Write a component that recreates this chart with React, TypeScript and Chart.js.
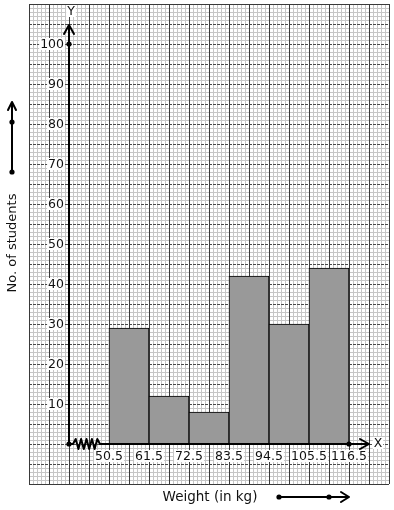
import React, { useEffect, useRef } from 'react';
import { Chart, registerables } from 'chart.js';

Chart.register(...registerables);

const classBoundaries = [50.5, 61.5, 72.5, 83.5, 94.5, 105.5, 116.5];
const frequencies = [29, 12, 8, 42, 30, 44];
const xTickLabels = ['50.5', '61.5', '72.5', '83.5', '94.5', '105.5', '116.5'];
const yTickValues = [10, 20, 30, 40, 50, 60, 70, 80, 90, 100];
const xTitle = 'Weight (in kg)';
const yTitle = 'No. of students';

// axis ranges of the graph paper (x: kg, y: students)
const xMin = 28.5;
const xMax = 127.5;
const yMin = -10;
const yMax = 110;
const xOrigin = 39.5; // value where the (broken) x axis meets the y axis
const xMinorStep = 1.1;
const yMinorStep = 1;

const FONT = "'DejaVu Sans', sans-serif";

const barData = frequencies.map((f, i) => ({
  x: (classBoundaries[i] + classBoundaries[i + 1]) / 2,
  y: f,
}));

const graphPaper = {
  id: 'graphPaper',
  beforeDatasetsDraw(chart: any) {
    const { ctx, chartArea: a, scales } = chart;
    const xs = scales.x;
    const ys = scales.y;
    ctx.save();
    ctx.fillStyle = '#ffffff';
    ctx.fillRect(a.left, a.top, a.right - a.left, a.bottom - a.top);
    ctx.lineWidth = 1;
    const nx = Math.round((xMax - xMin) / xMinorStep);
    const ny = Math.round((yMax - yMin) / yMinorStep);
    const px = (i: number) => Math.round(xs.getPixelForValue(xMin + i * xMinorStep)) + 0.5;
    const py = (i: number) => Math.round(ys.getPixelForValue(yMin + i * yMinorStep)) + 0.5;
    // minor lines
    ctx.strokeStyle = '#c6c6c6';
    ctx.beginPath();
    for (let i = 0; i <= nx; i++) {
      if (i % 5 === 0) continue;
      ctx.moveTo(px(i), a.top);
      ctx.lineTo(px(i), a.bottom);
    }
    for (let i = 0; i <= ny; i++) {
      if (i % 5 === 0) continue;
      ctx.moveTo(a.left, py(i));
      ctx.lineTo(a.right, py(i));
    }
    ctx.stroke();
    // major horizontal (dashed)
    ctx.strokeStyle = '#4a4a4a';
    ctx.setLineDash([3, 1]);
    ctx.beginPath();
    for (let i = 5; i < ny; i += 5) {
      ctx.moveTo(a.left, py(i));
      ctx.lineTo(a.right, py(i));
    }
    ctx.stroke();
    ctx.setLineDash([]);
    // major vertical (solid)
    ctx.strokeStyle = '#3a3a3a';
    ctx.beginPath();
    for (let i = 0; i <= nx; i += 5) {
      ctx.moveTo(px(i), a.top);
      ctx.lineTo(px(i), a.bottom);
    }
    ctx.moveTo(a.left, py(0));
    ctx.lineTo(a.right, py(0));
    ctx.moveTo(a.left, py(ny));
    ctx.lineTo(a.right, py(ny));
    ctx.stroke();
    ctx.restore();
  },
};

function labelWithBg(ctx: CanvasRenderingContext2D, text: string, x: number, y: number, align: CanvasTextAlign) {
  const w = ctx.measureText(text).width;
  let left = x;
  if (align === 'center') left = x - w / 2;
  else if (align === 'right') left = x - w;
  ctx.fillStyle = '#ffffff';
  ctx.fillRect(left - 1, y - 6, w + 2, 12);
  ctx.fillStyle = '#111111';
  ctx.textAlign = align;
  ctx.textBaseline = 'middle';
  ctx.fillText(text, x, y + 0.5);
}

function dot(ctx: CanvasRenderingContext2D, x: number, y: number) {
  ctx.beginPath();
  ctx.arc(x, y, 2.6, 0, Math.PI * 2);
  ctx.fill();
}

const axesAndLabels = {
  id: 'axesAndLabels',
  afterDatasetsDraw(chart: any) {
    const { ctx, scales } = chart;
    const xs = scales.x;
    const ys = scales.y;
    const ox = Math.round(xs.getPixelForValue(xOrigin));
    const oy = Math.round(ys.getPixelForValue(0));
    ctx.save();
    ctx.strokeStyle = '#000';
    ctx.fillStyle = '#000';
    ctx.lineWidth = 2;
    ctx.lineCap = 'round';
    ctx.lineJoin = 'round';

    // y axis
    const yTip = Math.round(ys.getPixelForValue(104.75));
    ctx.beginPath();
    ctx.moveTo(ox, oy);
    ctx.lineTo(ox, yTip);
    ctx.moveTo(ox - 5, yTip + 9);
    ctx.lineTo(ox, yTip);
    ctx.lineTo(ox + 5, yTip + 9);
    ctx.stroke();

    // x axis with break
    const zs = ox + 4;
    const ze = Math.round(xs.getPixelForValue(classBoundaries[0])) - 9;
    const xTip = Math.round(xs.getPixelForValue(122));
    ctx.beginPath();
    ctx.moveTo(ox, oy);
    ctx.lineTo(zs, oy);
    const segs = 10;
    for (let i = 1; i <= segs; i++) {
      const zx = zs + ((ze - zs) * i) / segs;
      const zy = i === segs ? oy : oy + (i % 2 === 1 ? -5 : 5);
      ctx.lineTo(zx, zy);
    }
    ctx.lineTo(xTip, oy);
    ctx.moveTo(xTip - 9, oy - 5);
    ctx.lineTo(xTip, oy);
    ctx.lineTo(xTip - 9, oy + 5);
    ctx.stroke();

    dot(ctx, ox, oy);
    dot(ctx, ox, Math.round(ys.getPixelForValue(100)));
    dot(ctx, Math.round(xs.getPixelForValue(classBoundaries[classBoundaries.length - 1])), oy);

    // side arrow (y direction)
    ctx.beginPath();
    ctx.moveTo(12, 172);
    ctx.lineTo(12, 102);
    ctx.moveTo(8, 110);
    ctx.lineTo(12, 102);
    ctx.lineTo(16, 110);
    ctx.stroke();
    dot(ctx, 12, 122);
    dot(ctx, 12, 172);

    // bottom arrow (x direction)
    ctx.beginPath();
    ctx.moveTo(279, 497);
    ctx.lineTo(349, 497);
    ctx.moveTo(341, 492);
    ctx.lineTo(349, 497);
    ctx.lineTo(341, 502);
    ctx.stroke();
    dot(ctx, 279, 497);
    dot(ctx, 329, 497);

    // tick labels
    ctx.font = `12.5px ${FONT}`;
    yTickValues.forEach((v) => {
      labelWithBg(ctx, String(v), ox - 5, ys.getPixelForValue(v), 'right');
    });
    xTickLabels.forEach((t, i) => {
      labelWithBg(ctx, t, xs.getPixelForValue(classBoundaries[i]), oy + 12, 'center');
    });
    labelWithBg(ctx, 'Y', ox + 2, 11, 'center');
    labelWithBg(ctx, 'X', xTip + 9, oy - 1, 'center');

    // titles
    ctx.fillStyle = '#111';
    ctx.textAlign = 'center';
    ctx.textBaseline = 'middle';
    ctx.font = `13.5px ${FONT}`;
    ctx.fillText(xTitle, 210, 497);
    ctx.font = `13px ${FONT}`;
    ctx.save();
    ctx.translate(13, 243);
    ctx.rotate(-Math.PI / 2);
    ctx.fillText(yTitle, 0, 0);
    ctx.restore();

    ctx.restore();
  },
};

export default function App() {
  const canvasRef = useRef<HTMLCanvasElement | null>(null);

  useEffect(() => {
    if (!canvasRef.current) return;
    const chart = new Chart(canvasRef.current, {
      type: 'bar',
      data: {
        datasets: [
          {
            data: barData as any,
            backgroundColor: 'rgb(153,153,153)',
            borderColor: '#000',
            borderWidth: 1,
            borderSkipped: false,
            barPercentage: 1,
            categoryPercentage: 1,
          },
        ],
      },
      options: {
        responsive: false,
        maintainAspectRatio: false,
        animation: false,
        devicePixelRatio: 1,
        layout: { padding: { left: 29, right: 5, top: 4, bottom: 26 } },
        plugins: {
          legend: { display: false },
          tooltip: { enabled: false },
          title: { display: false },
        },
        scales: {
          x: { type: 'linear', min: xMin, max: xMax, display: false, offset: false },
          y: { type: 'linear', min: yMin, max: yMax, display: false },
        },
      },
      plugins: [graphPaper, axesAndLabels],
    });
    return () => chart.destroy();
  }, []);

  return (
    <div style={{ position: 'fixed', left: 0, top: 0, width: 394, height: 510, background: '#fff' }}>
      <canvas ref={canvasRef} width={394} height={510} style={{ display: 'block' }} />
    </div>
  );
}
